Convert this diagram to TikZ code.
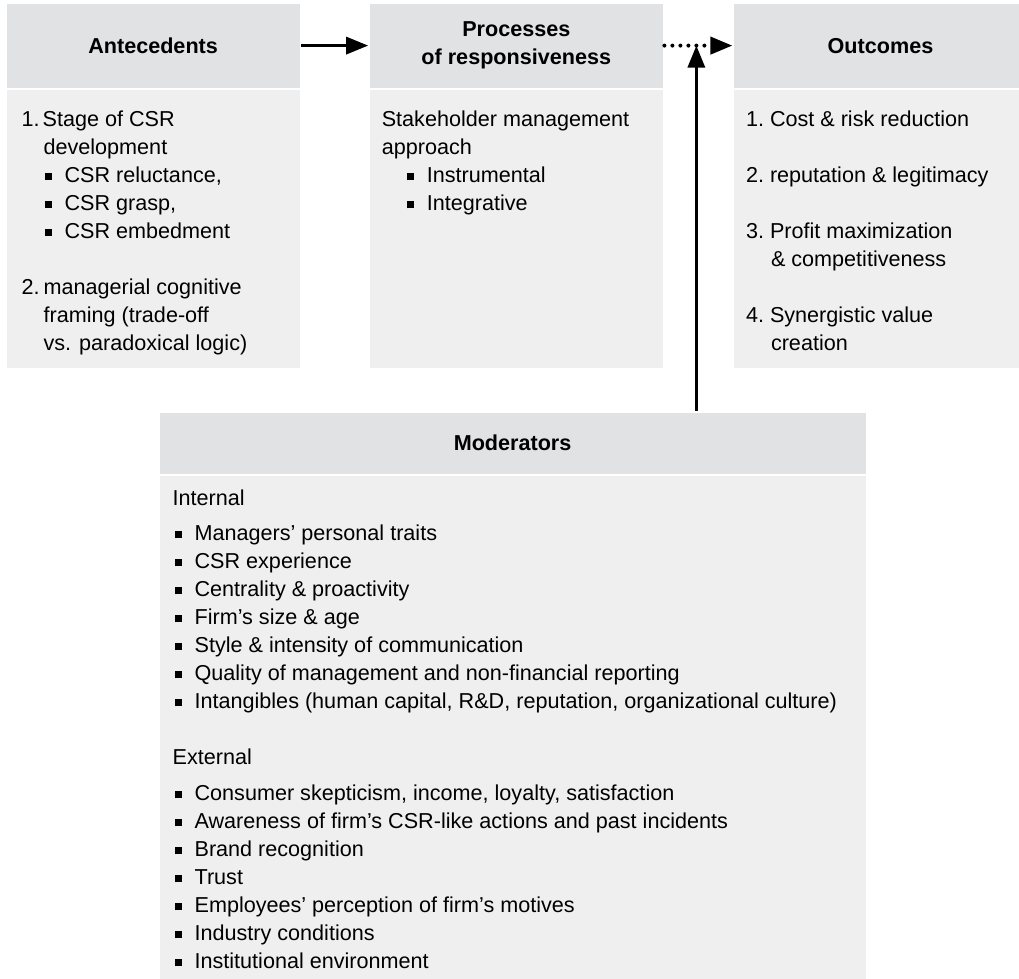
\documentclass[tikz,border=0pt]{standalone}
\usepackage{fontspec}
\setmainfont{Liberation Sans}
\usepackage{tikz}
\usetikzlibrary{arrows.meta, positioning, calc}
\definecolor{colorHead}{RGB}{225,226,228}
\definecolor{colorBody}{RGB}{239,239,239}
\newcommand{\sqitem}{\makebox[10pt][l]{\raisebox{1pt}{\rule{3.8pt}{3.8pt}}}}
\tikzset{
  head/.style={fill=colorHead, inner sep=0pt, align=center, font=\fontsize{10.8}{14}\selectfont\bfseries},
  bodybox/.style={fill=colorBody, inner sep=0pt},
  txt/.style={inner sep=0pt, align=left, font=\fontsize{10.8}{14}\selectfont},
  dotline/.style={dash pattern=on 0pt off 4pt, line cap=round, line width=2pt}
}

\begin{document}
\begin{tikzpicture}[>={Triangle[length=11pt,width=8.5pt]}, line width=1.6pt, node distance=0pt]
\useasboundingbox (0,0) rectangle (509.5pt,-489.5pt);

\node[head, minimum width=146.5pt, minimum height=42pt, anchor=north west] (anteHead) at (2.5pt,-1pt) {Antecedents};
\node[head, minimum width=146.5pt, minimum height=42pt, right=33.5pt of anteHead] (procHead) {Processes\\of responsiveness};
\node[head, minimum width=146.5pt, minimum height=42pt, right=34pt of procHead] (outHead) {Outcomes};
\node[bodybox, minimum width=146.5pt, minimum height=139pt, below=-0.5pt of anteHead] (anteBody) {};
\node[bodybox, minimum width=146.5pt, minimum height=139pt, below=-0.5pt of procHead] (procBody) {};
\node[bodybox, minimum width=146.5pt, minimum height=139pt, below=-0.5pt of outHead] (outBody) {};

\node[head, minimum width=353pt, minimum height=30.5pt, anchor=north west] (modHead) at (79pt,-205.5pt) {Moderators};
\node[bodybox, minimum width=353pt, minimum height=254pt, below=-0.5pt of modHead] (modBody) {};

\node[txt, below right=10.5pt and 7.5pt of anteBody.north west] (anteText) {%
\makebox[10.5pt][l]{1.}Stage of CSR\\
\hspace*{11pt}development\\
\hspace*{11.5pt}\sqitem CSR reluctance,\\
\hspace*{11.5pt}\sqitem CSR grasp,\\
\hspace*{11.5pt}\sqitem CSR embedment\\[14pt]
\makebox[11pt][l]{2.}managerial cognitive\\
\hspace*{11pt}framing (trade-off\\
\hspace*{11pt}vs. paradoxical logic)};

\node[txt, below right=10.5pt and 6pt of procBody.north west] (procText) {%
Stakeholder management\\
approach\\
\hspace*{12.5pt}\sqitem Instrumental\\
\hspace*{12.5pt}\sqitem Integrative};

\node[txt, below right=10.5pt and 6pt of outBody.north west] (outText) {%
\makebox[12pt][l]{1.}Cost \& risk reduction\\[14pt]
\makebox[12pt][l]{2.}reputation \& legitimacy\\[14pt]
\makebox[12pt][l]{3.}Profit maximization\\
\hspace*{12.5pt}\& competitiveness\\[14pt]
\makebox[12pt][l]{4.}Synergistic value\\
\hspace*{12.5pt}creation};

\node[txt, below right=7pt and 6.5pt of modBody.north west] (modText) {%
Internal\\[3.5pt]
\hspace*{1pt}\sqitem Managers’ personal traits\\
\hspace*{1pt}\sqitem CSR experience\\
\hspace*{1pt}\sqitem Centrality \& proactivity\\
\hspace*{1pt}\sqitem Firm’s size \& age\\
\hspace*{1pt}\sqitem Style \& intensity of communication\\
\hspace*{1pt}\sqitem Quality of management and non-financial reporting\\
\hspace*{1pt}\sqitem Intangibles (human capital, R\&D, reputation, organizational culture)\\[14pt]
External\\[4pt]
\hspace*{1pt}\sqitem Consumer skepticism, income, loyalty, satisfaction\\
\hspace*{1pt}\sqitem Awareness of firm’s CSR-like actions and past incidents\\
\hspace*{1pt}\sqitem Brand recognition\\
\hspace*{1pt}\sqitem Trust\\
\hspace*{1pt}\sqitem Employees’ perception of firm’s motives\\
\hspace*{1pt}\sqitem Industry conditions\\
\hspace*{1pt}\sqitem Institutional environment};

\coordinate (meet) at ($(procHead.east)!0.47!(outHead.west)$);
\draw[->] (anteHead.east) -- (procHead.west);
\draw[->, dotline] (procHead.east) -- (outHead.west);
\draw[->] (modHead.north -| meet) -- (meet);
\end{tikzpicture}
\end{document}
